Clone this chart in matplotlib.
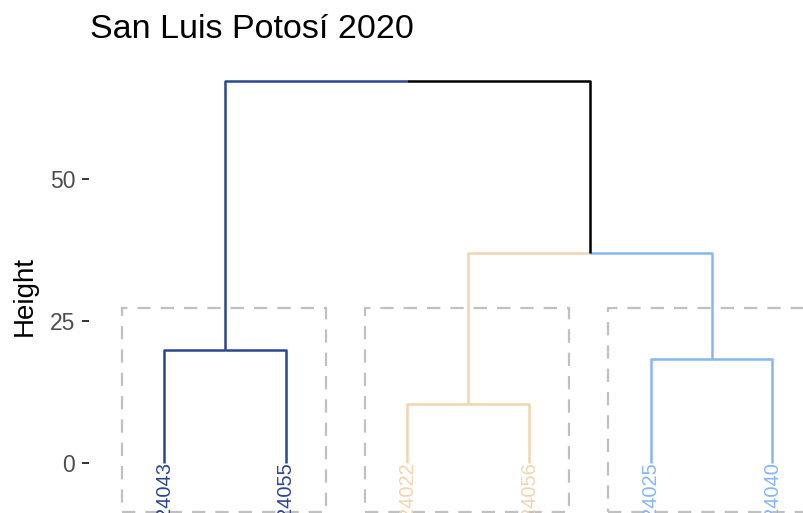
import matplotlib
matplotlib.use("Agg")
import matplotlib.pyplot as plt
from matplotlib.patches import Rectangle

plt.rcParams['font.family'] = ['Liberation Sans', 'DejaVu Sans']

# leaves in dendrogram order and the cluster each belongs to
leaf_labels = ["24043", "24055", "24022", "24056", "24025", "24040"]
leaf_cluster = [0, 0, 1, 1, 2, 2]
cluster_colors = ["#2B4690", "#F2D5B0", "#86B5F8"]

# merge heights
cluster_heights = [19.9, 10.4, 18.3]   # merge inside each cluster
bc_height = 37.0                        # cluster 2 + cluster 3
top_height = 67.3                       # root
cut_height = 27.3                       # top of the dashed boxes
yticks = [0, 25, 50]

W, H = 804, 513
fig = plt.figure(figsize=(W / 100, H / 100), dpi=100)
ax = fig.add_axes([89 / W, 0, 1 - 89 / W, 1 - 60 / H])
ax.set_xlim(0.382, 6.26)
ax.set_ylim(-8.8, 70.95)

lw = 1.8


def link(xl, yl, xr, yr, h, cl, cr):
    mid = (xl + xr) / 2
    ax.plot([xl, xl, mid], [yl, h, h], color=cl, lw=lw, solid_capstyle='butt', zorder=2)
    ax.plot([mid, xr, xr], [h, h, yr], color=cr, lw=lw, solid_capstyle='butt', zorder=2)


xs = list(range(1, len(leaf_labels) + 1))
centers = []
for c in range(3):
    idx = [i for i, k in enumerate(leaf_cluster) if k == c]
    xl, xr = xs[idx[0]], xs[idx[-1]]
    col = cluster_colors[c]
    link(xl, 0, xr, 0, cluster_heights[c], col, col)
    centers.append((xl + xr) / 2)
    ax.add_patch(Rectangle((xl - 0.35, -8.6), (xr - xl) + 0.68, cut_height + 8.6,
                           fill=False, edgecolor="#C0C0C0", lw=1.6,
                           linestyle=(0, (6, 4.5)), zorder=3))

link(centers[1], cluster_heights[1], centers[2], cluster_heights[2], bc_height,
     cluster_colors[1], cluster_colors[2])
bc_x = (centers[1] + centers[2]) / 2
link(centers[0], cluster_heights[0], bc_x, bc_height, top_height,
     cluster_colors[0], "black")

for x, lab, k in zip(xs, leaf_labels, leaf_cluster):
    ax.text(x, 0.2, lab, rotation=90, ha='center', va='top',
            fontsize=14.5, color=cluster_colors[k], zorder=4)

ax.set_xticks([])
ax.set_yticks(yticks)
ax.tick_params(axis='y', length=5, width=1.4, color='#333333',
               labelsize=16.5, labelcolor='#4D4D4D', pad=5)
for s in ax.spines.values():
    s.set_visible(False)

fig.text(90 / W, 1 - 38 / H, "San Luis Potosí 2020", fontsize=24.5,
         ha='left', va='baseline', color='black')
fig.text(25 / W, 1 - 296 / H, "Height", fontsize=20, rotation=90,
         ha='center', va='center', color='black')

fig.savefig("out.png", dpi=100)
